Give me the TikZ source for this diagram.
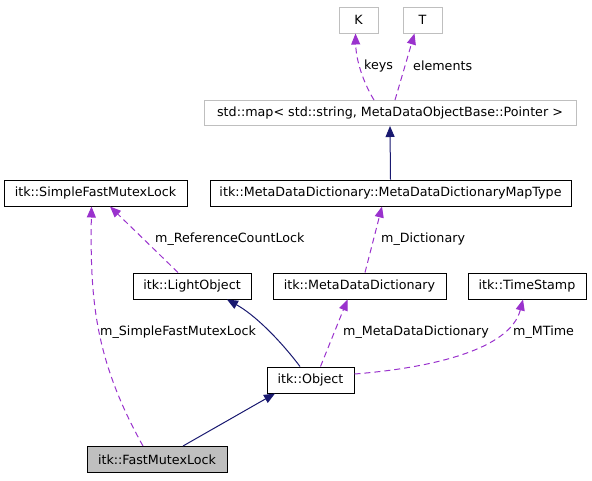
\documentclass[tikz,border=0pt]{standalone}
\usepackage{fontspec}
\setmainfont{DejaVu Sans}
\usetikzlibrary{arrows.meta}

\definecolor{inhblue}{HTML}{191970}
\definecolor{usepurple}{HTML}{9A32CD}
\definecolor{tmplgray}{HTML}{BFBFBF}

\tikzset{
  cls/.style={draw=black, fill=white, line width=1pt, minimum height=26pt,
    inner sep=0pt, font=\fontsize{12.7}{14}\selectfont},
  tmpl/.style={cls, draw=tmplgray},
  inherit/.style={draw=inhblue, line width=1pt,
    -{Triangle[length=11pt,width=9pt]}},
  member/.style={draw=usepurple, line width=1pt, dash pattern=on 6pt off 4pt,
    -{Triangle[length=11pt,width=9pt]}},
  lbl/.style={anchor=west, inner sep=0pt, font=\fontsize{12.7}{14}\selectfont},
}

\begin{document}
\begin{tikzpicture}[x=1pt,y=-1pt]
    \useasboundingbox (0,0) rectangle (592,480);

    % class boxes
    \node[tmpl, minimum width=39pt] (K) at (358.5,20) {K};
    \node[tmpl, minimum width=39pt] (T) at (422.5,20) {T};
    \node[tmpl, minimum width=372pt, minimum height=25pt] (map) at (390,113)
      {std::map< std::string, MetaDataObjectBase::Pointer >};
    \node[cls, minimum width=361pt] (maptype) at (390.5,193)
      {itk::MetaDataDictionary::MetaDataDictionaryMapType};
    \node[cls, minimum width=183pt] (simplelock) at (95.5,193) {itk::SimpleFastMutexLock};
    \node[cls, minimum width=118pt] (lightobj) at (192,286) {itk::LightObject};
    \node[cls, minimum width=173pt] (dict) at (359.5,286) {itk::MetaDataDictionary};
    \node[cls, minimum width=118pt] (stamp) at (527,286) {itk::TimeStamp};
    \node[cls, minimum width=87pt] (object) at (310.5,380) {itk::Object};
    \node[cls, fill=tmplgray, minimum width=140pt] (fastlock) at (157,459.5) {itk::FastMutexLock};

    % template arguments
    \draw[member] ([xshift=-16pt]map.north) .. controls (363,82) and (356,60) .. ([xshift=-3pt]K.south);
    \draw[member] ([xshift=5pt]map.north) -- ([xshift=-8pt]T.south);
    \node[lbl] (keyslbl) at (364,66) {keys};
    \node[lbl] (elemlbl) at (413,66) {elements};

    % inheritance
    \draw[inherit] (maptype.north) -- (map.south);
    \draw[inherit] ([xshift=-10.5pt]object.north) .. controls (280,340) and (255,315) .. ([xshift=35pt]lightobj.south);
    \draw[inherit] ([xshift=26pt]fastlock.north) -- ([xshift=-35.5pt]object.south);

    % members
    \draw[member] ([xshift=5.5pt]dict.north) -- ([xshift=-8.5pt]maptype.south);
    \node[lbl] (dictlbl) at (381,239) {m\_Dictionary};
    \draw[member] ([xshift=-14pt]lightobj.north) -- ([xshift=14.5pt]simplelock.south);
    \node[lbl] (reflbl) at (155,239) {m\_ReferenceCountLock};
    \draw[member] ([xshift=-14pt]fastlock.north) .. controls (95,360) and (90,300) .. ([xshift=-4pt]simplelock.south);
    \node[lbl] (simplelbl) at (100,332) {m\_SimpleFastMutexLock};
    \draw[member] ([xshift=10pt]object.north) -- ([xshift=-12pt]dict.south);
    \node[lbl] (mddlbl) at (343,332) {m\_MetaDataDictionary};
    \draw[member] ([yshift=6pt]object.east) .. controls (430,368) and (510,350) .. ([xshift=-4pt]stamp.south);
    \node[lbl] (mtimelbl) at (513,332) {m\_MTime};
\end{tikzpicture}
\end{document}
